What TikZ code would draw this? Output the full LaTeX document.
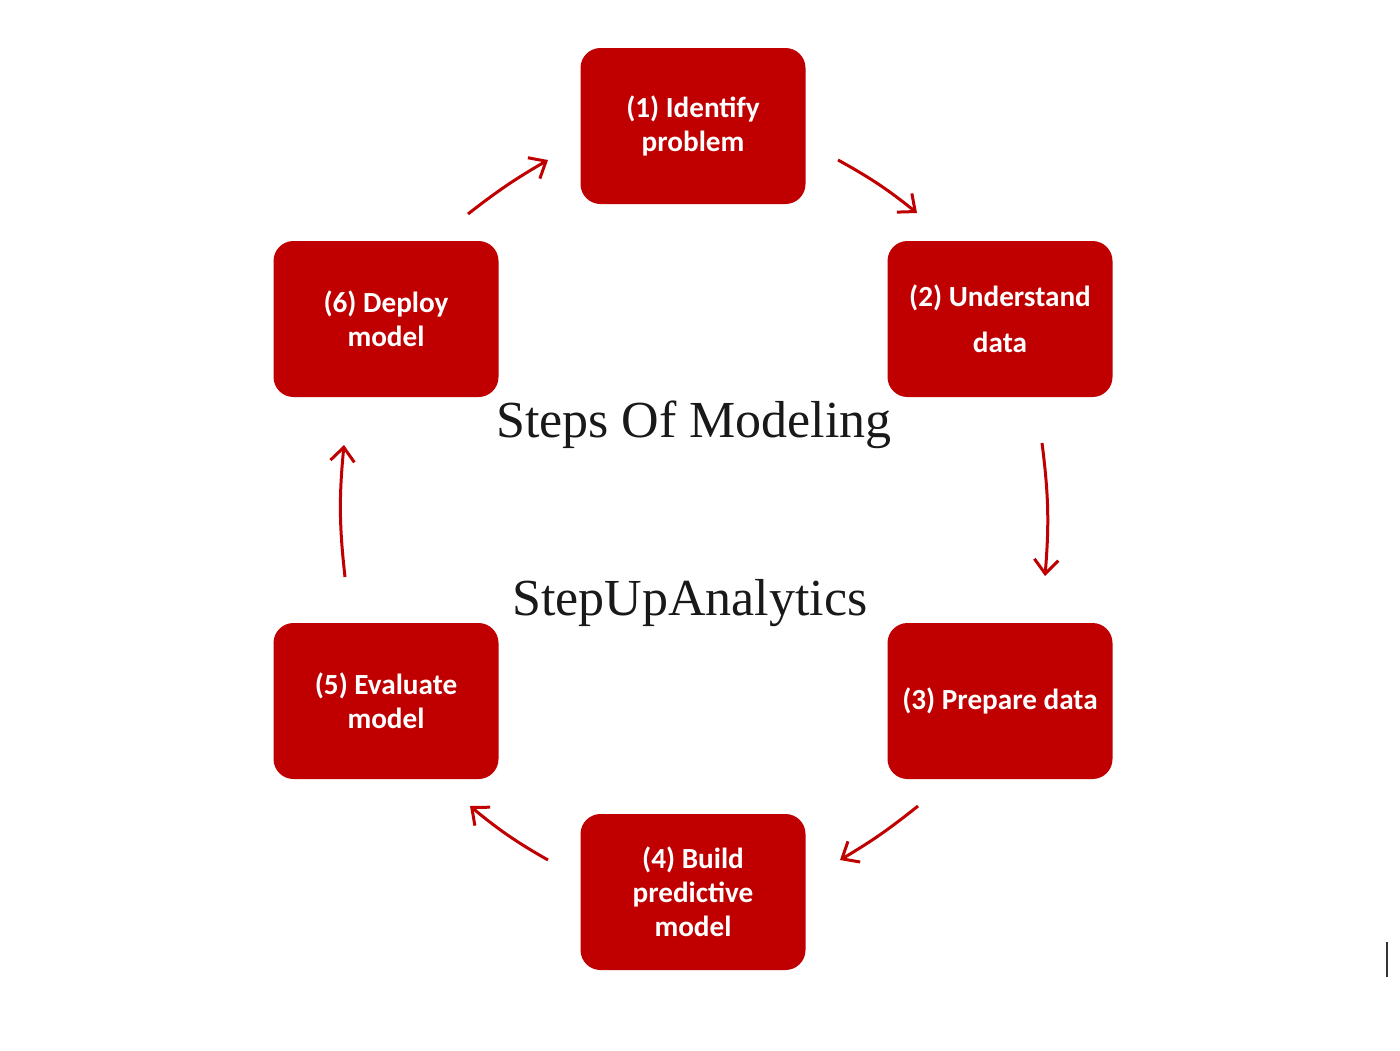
\documentclass[tikz,border=0pt]{standalone}
\usepackage{fontspec}
\setmainfont{Liberation Serif}
\newfontfamily\boxfont{Carlito}
\usetikzlibrary{arrows.meta}
\definecolor{boxred}{RGB}{192,0,0}
\begin{document}
\begin{tikzpicture}[x=0.5pt,y=-0.5pt,
  stepbox/.style={draw=none,fill=boxred,rounded corners=10pt,minimum width=112.5pt,minimum height=78pt,
    text=white,font=\boxfont\bfseries\fontsize{14.6}{17}\selectfont,align=center,inner sep=0pt},
  flow/.style={draw=boxred,line width=1.5pt,-{Straight Barb[length=7pt,width=12pt,line width=1.5pt]}},
  title/.style={font=\fontsize{26}{31}\selectfont,text=black!90}]
\useasboundingbox[fill=white] (0,0) rectangle (1400,1050);
\node[stepbox] (s1) at (693,126) {(1) Identify\\problem};
\node[stepbox] (s2) at (1000,319) {(2) Understand\\[6pt]data};
\node[stepbox] (s3) at (1000,701) {(3) Prepare data};
\node[stepbox] (s4) at (693,892) {(4) Build\\predictive\\model};
\node[stepbox] (s5) at (386,701) {(5) Evaluate\\model};
\node[stepbox] (s6) at (386,319) {(6) Deploy\\model};
\node[title] (t1) at (694,425) {Steps Of Modeling};
\node[title] (t2) at (690,603) {StepUpAnalytics};
\coordinate (a1s) at (838,160); \coordinate (a1e) at (917,213);
\coordinate (a2s) at (1042,443); \coordinate (a2e) at (1045,576);
\coordinate (a3s) at (918,806); \coordinate (a3e) at (840,860);
\coordinate (a4s) at (548,860); \coordinate (a4e) at (470,806);
\coordinate (a5s) at (345,577); \coordinate (a5e) at (344,445);
\coordinate (a6s) at (468,214); \coordinate (a6e) at (548,160);
\draw[flow] (a1s) to[bend left=5] (a1e);
\draw[flow] (a2s) to[bend left=6] (a2e);
\draw[flow] (a3s) to[bend left=4] (a3e);
\draw[flow] (a4s) to[bend left=5] (a4e);
\draw[flow] (a5s) to[bend left=6] (a5e);
\draw[flow] (a6s) to[bend left=4] (a6e);
\coordinate (c1) at (1387,942); \coordinate (c2) at (1387,977);
\draw[line width=1pt,black!80] (c1) -- (c2);
\end{tikzpicture}
\end{document}
